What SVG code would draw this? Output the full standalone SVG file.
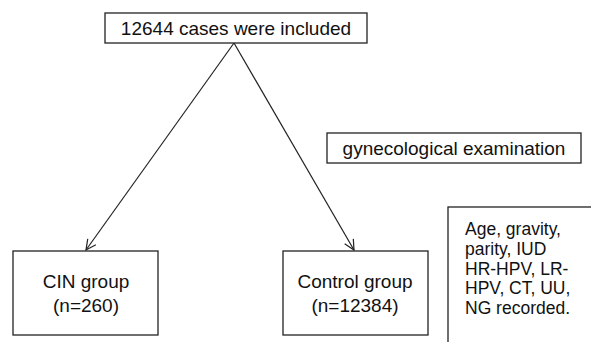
<svg xmlns="http://www.w3.org/2000/svg" width="591" height="342" viewBox="0 0 591 342">
<style>
.box{fill:#fff;stroke:#222;stroke-width:1.3}
.t{font-family:"Liberation Sans",Arial,sans-serif;font-size:19px;fill:#111}
.s{font-size:17.5px}
.c{text-anchor:middle}
.ln{stroke:#222;stroke-width:1.2;fill:none}
</style>
<defs>
<marker id="ah" markerWidth="12" markerHeight="12" refX="11" refY="6" orient="auto" markerUnits="userSpaceOnUse">
<path d="M1,1 L11,6 L1,11" fill="none" stroke="#222" stroke-width="1.2"/>
</marker>
</defs>
<rect width="591" height="342" fill="#fff"/>
<g id="connectors">
<line class="ln" x1="234" y1="43" x2="86" y2="250" marker-end="url(#ah)"/>
<line class="ln" x1="234" y1="43" x2="354" y2="250" marker-end="url(#ah)"/>
</g>
<g id="included">
<rect class="box" x="105" y="13" width="262" height="30"/>
<text class="t c" x="236" y="35">12644 cases were included</text>
</g>
<g id="exam">
<rect class="box" x="327" y="133" width="254" height="30"/>
<text class="t c" x="454" y="155">gynecological examination</text>
</g>
<g id="recorded">
<rect class="box" x="448" y="207" width="160" height="150"/>
<text class="t s" x="465" y="235">Age, gravity,</text>
<text class="t s" x="465" y="254.8">parity, IUD</text>
<text class="t s" x="465" y="274.6">HR-HPV, LR-</text>
<text class="t s" x="465" y="294.4">HPV, CT, UU,</text>
<text class="t s" x="465" y="314.2">NG recorded.</text>
</g>
<g id="cin">
<rect class="box" x="13" y="251" width="145" height="84"/>
<text class="t c" x="86" y="288">CIN group</text>
<text class="t c" x="86" y="312">(n=260)</text>
</g>
<g id="control">
<rect class="box" x="283" y="251" width="145" height="84"/>
<text class="t c" x="355" y="288">Control group</text>
<text class="t c" x="355" y="312">(n=12384)</text>
</g>
</svg>
